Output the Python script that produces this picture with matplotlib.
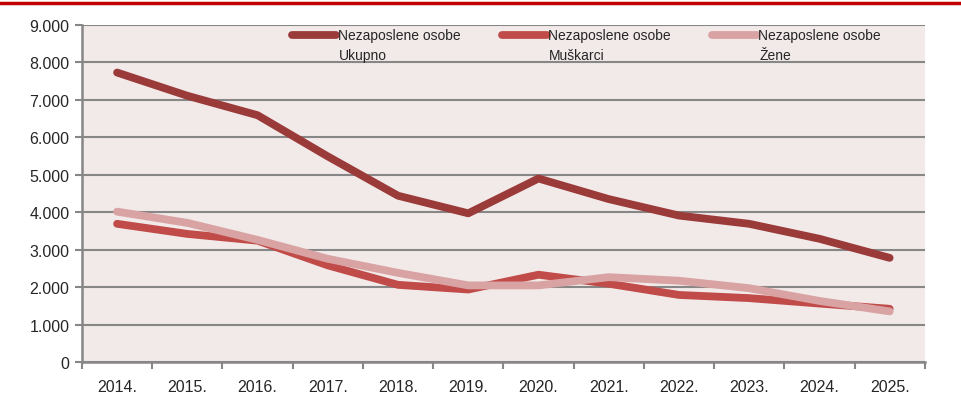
import matplotlib.pyplot as plt
import matplotlib.ticker as mticker
from matplotlib.lines import Line2D
import numpy as np

plt.rcParams['font.family'] = ['Liberation Sans', 'DejaVu Sans']

# Data
years = ['2014.', '2015.', '2016.', '2017.', '2018.', '2019.',
         '2020.', '2021.', '2022.', '2023.', '2024.', '2025.']
ukupno   = [7730, 7110, 6590, 5490, 4440, 3970, 4900, 4350, 3910, 3690, 3290, 2780]
muskarci = [3690, 3420, 3240, 2580, 2060, 1935, 2330, 2090, 1790, 1705, 1560, 1420]
zene     = [4015, 3715, 3260, 2755, 2380, 2045, 2045, 2265, 2170, 1970, 1630, 1350]

series_labels = ['Nezaposlene osobe', 'Nezaposlene osobe', 'Nezaposlene osobe']
series_sub = ['Ukupno', 'Muškarci', 'Žene']
colors = ['#9A3A39', '#C04B49', '#D8A3A2']

GRID = '#878787'

fig = plt.figure(figsize=(9.61, 4.06), dpi=100)
ax = fig.add_axes([0.0853, 0.106, 0.877, 0.830])
ax.set_facecolor('#F2E9E9')

x = np.arange(len(years))
lw = 5.6
for vals, col, lab in zip([ukupno, muskarci, zene], colors, series_labels):
  ax.plot(x, vals, color=col, linewidth=lw, solid_capstyle='round',
          solid_joinstyle='round', label=lab, zorder=3)

ax.set_xlim(-0.5, len(years) - 0.5)
ax.set_ylim(0, 9000)
ax.yaxis.set_major_locator(mticker.MultipleLocator(1000))
ax.yaxis.set_major_formatter(mticker.FuncFormatter(
  lambda v, p: f'{int(v):,}'.replace(',', '.')))
ax.grid(axis='y', color=GRID, linewidth=1.5, zorder=1)
ax.set_axisbelow(True)

# category labels centred, tick marks between categories
ax.set_xticks(x)
ax.set_xticklabels(years)
ax.set_xticks(np.arange(-0.5, len(years)), minor=True)
ax.tick_params(axis='x', which='major', length=0, pad=12, labelsize=11.5,
               labelcolor='#262626')
ax.tick_params(axis='x', which='minor', length=5, width=1.5, color=GRID)
ax.tick_params(axis='y', length=5, width=1.5, color=GRID, pad=4,
               labelsize=11.5, labelcolor='#262626')

for s in ['top', 'right']:
  ax.spines[s].set_visible(False)
for s in ['left', 'bottom']:
  ax.spines[s].set_color(GRID)
  ax.spines[s].set_linewidth(1.8)

leg = ax.legend(loc='upper left', bbox_to_anchor=(0.245, 1.0), ncol=3,
                frameon=False, fontsize=10, handlelength=3.2,
                handletextpad=0.1, columnspacing=3.0, borderaxespad=0,
                borderpad=0.25)
for txt in leg.get_texts():
  txt.set_color('#262626')

# second line of each legend entry, hung under the first line
fig.canvas.draw()
for txt, sub in zip(leg.get_texts(), series_sub):
  ax.annotate(sub, xy=(0, 0), xycoords=txt, xytext=(1, -4),
              textcoords='offset points', va='top', ha='left',
              fontsize=10, color='#262626', zorder=6)

# red rule along the top edge (the title above is cut off)
fig.add_artist(Line2D([0, 1], [0.991, 0.991], transform=fig.transFigure,
                      color='#C00000', linewidth=2.5))

fig.savefig('out.png', dpi=100)
